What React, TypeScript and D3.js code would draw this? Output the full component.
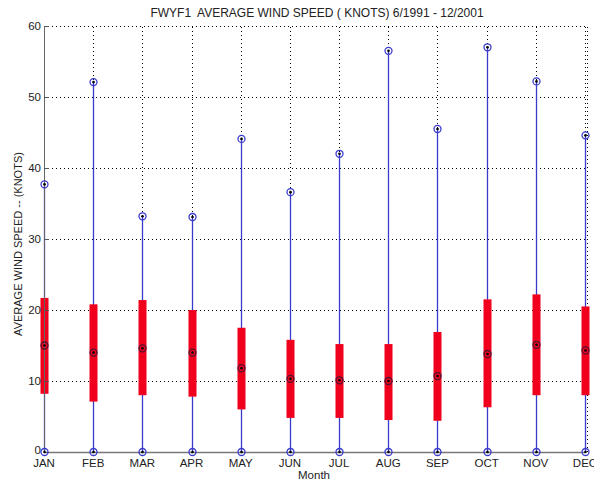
import React, { useEffect, useRef } from "react";
import * as d3 from "d3";

const WIDTH = 594;
const HEIGHT = 483;
const MARGIN = { top: 26, right: 9, bottom: 31, left: 44 };

const months = ["JAN", "FEB", "MAR", "APR", "MAY", "JUN", "JUL", "AUG", "SEP", "OCT", "NOV", "DEC"];
const maxValues = [37.7, 52.1, 33.2, 33.1, 44.1, 36.6, 42.0, 56.5, 45.5, 57.0, 52.2, 44.6];
const q3Values = [21.7, 20.8, 21.4, 20.0, 17.5, 15.8, 15.2, 15.2, 16.9, 21.5, 22.2, 20.5];
const medianValues = [15.0, 14.0, 14.6, 14.0, 11.8, 10.3, 10.1, 10.0, 10.7, 13.8, 15.1, 14.3];
const q1Values = [8.2, 7.1, 8.0, 7.8, 6.0, 4.8, 4.8, 4.5, 4.4, 6.3, 8.0, 8.0];
const minValues = [0, 0, 0, 0, 0, 0, 0, 0, 0, 0, 0, 0];
const yTicks = [0, 10, 20, 30, 40, 50, 60];

const FONT = "'Liberation Sans', Arial, sans-serif";

export default function App() {
  const gRef = useRef<SVGGElement>(null);

  useEffect(() => {
    const g = d3.select(gRef.current);
    g.selectAll("*").remove();

    const x = d3
      .scaleLinear()
      .domain([0, months.length - 1])
      .range([MARGIN.left, WIDTH - MARGIN.right]);
    const y = d3
      .scaleLinear()
      .domain([0, 60])
      .range([HEIGHT - MARGIN.bottom, MARGIN.top]);

    const data = months.map((m, i) => ({
      m,
      i,
      max: maxValues[i],
      q3: q3Values[i],
      med: medianValues[i],
      q1: q1Values[i],
      min: minValues[i],
    }));

    // grid
    const grid = g.append("g").attr("stroke", "#000").attr("stroke-width", 1).attr("stroke-dasharray", "1,3");
    grid
      .selectAll("line.h")
      .data(yTicks.filter((t) => t > 0))
      .join("line")
      .attr("x1", x(0))
      .attr("x2", x(11) + 2)
      .attr("y1", (d) => Math.round(y(d)) + 0.5)
      .attr("y2", (d) => Math.round(y(d)) + 0.5);
    grid
      .selectAll("line.v")
      .data(d3.range(1, 12))
      .join("line")
      .attr("x1", (d) => Math.round(x(d)) + 0.5)
      .attr("x2", (d) => Math.round(x(d)) + 0.5)
      .attr("y1", y(0))
      .attr("y2", y(60));
    // right frame (dotted, like the grid)
    grid
      .append("line")
      .attr("x1", Math.round(x(11)) + 2.5)
      .attr("x2", Math.round(x(11)) + 2.5)
      .attr("y1", y(0))
      .attr("y2", y(60));

    // whiskers
    g.append("g")
      .selectAll("line")
      .data(data)
      .join("line")
      .attr("x1", (d) => Math.round(x(d.i)) + 0.5)
      .attr("x2", (d) => Math.round(x(d.i)) + 0.5)
      .attr("y1", (d) => y(d.min))
      .attr("y2", (d) => y(d.max))
      .attr("stroke", "#3a3acc")
      .attr("stroke-width", 1.3);

    // boxes
    g.append("g")
      .selectAll("rect")
      .data(data)
      .join("rect")
      .attr("x", (d) => Math.round(x(d.i)) - 3.5)
      .attr("width", 8)
      .attr("y", (d) => y(d.q3))
      .attr("height", (d) => y(d.q1) - y(d.q3))
      .attr("fill", "#f0001c");

    // axes
    g.append("line")
      .attr("x1", x(0))
      .attr("x2", x(11))
      .attr("y1", y(0) + 0.5)
      .attr("y2", y(0) + 0.5)
      .attr("stroke", "#777")
      .attr("stroke-width", 1.5);
    g.append("line")
      .attr("x1", x(0) + 0.5)
      .attr("x2", x(0) + 0.5)
      .attr("y1", y(0))
      .attr("y2", y(60))
      .attr("stroke", "#666")
      .attr("stroke-width", 1);
    g.append("g")
      .selectAll("line")
      .data(yTicks)
      .join("line")
      .attr("x1", x(0))
      .attr("x2", x(0) + 5)
      .attr("y1", (d) => Math.round(y(d)) + 0.5)
      .attr("y2", (d) => Math.round(y(d)) + 0.5)
      .attr("stroke", "#555");

    // markers
    const markerRows = [
      { key: "max", ring: "#3a3acc" },
      { key: "min", ring: "#3a3acc" },
      { key: "med", ring: "#551133" },
    ] as const;
    markerRows.forEach((row) => {
      const mg = g.append("g");
      mg.selectAll("circle.r")
        .data(data)
        .join("circle")
        .attr("cx", (d) => Math.round(x(d.i)) + 0.5)
        .attr("cy", (d) => y(d[row.key]))
        .attr("r", 3.5)
        .attr("fill", "none")
        .attr("stroke", row.ring)
        .attr("stroke-width", 1.3);
      mg.selectAll("circle.d")
        .data(data)
        .join("circle")
        .attr("cx", (d) => Math.round(x(d.i)) + 0.5)
        .attr("cy", (d) => y(d[row.key]))
        .attr("r", 1.3)
        .attr("fill", "#000");
    });

    // tick labels
    g.append("g")
      .selectAll("text")
      .data(yTicks)
      .join("text")
      .attr("x", x(0) - 3)
      .attr("y", (d) => y(d) - (d === 0 ? 2 : 0))
      .attr("dy", "0.35em")
      .attr("text-anchor", "end")
      .attr("font-size", 11.5)
      .attr("font-family", FONT)
      .attr("fill", "#222")
      .text((d) => d);
    g.append("g")
      .selectAll("text")
      .data(data)
      .join("text")
      .attr("x", (d) => x(d.i))
      .attr("y", y(0) + 15)
      .attr("text-anchor", "middle")
      .attr("font-size", 11.5)
      .attr("font-family", FONT)
      .attr("fill", "#222")
      .text((d) => d.m);

    // titles
    g.append("text")
      .attr("x", 317)
      .attr("y", 17)
      .attr("text-anchor", "middle")
      .attr("font-size", 12)
      .attr("font-family", FONT)
      .attr("fill", "#222")
      .attr("xml:space", "preserve")
      .text("FWYF1  AVERAGE WIND SPEED ( KNOTS) 6/1991 - 12/2001");
    g.append("text")
      .attr("x", 314)
      .attr("y", 479)
      .attr("text-anchor", "middle")
      .attr("font-size", 11.5)
      .attr("font-family", FONT)
      .attr("fill", "#222")
      .text("Month");
    g.append("text")
      .attr("transform", `translate(22,${(y(0) + y(60)) / 2 + 5}) rotate(-90)`)
      .attr("text-anchor", "middle")
      .attr("font-size", 11)
      .attr("font-family", FONT)
      .attr("fill", "#222")
      .text("AVERAGE WIND SPEED -- (KNOTS)");
  }, []);

  return (
    <svg
      width={WIDTH}
      height={HEIGHT}
      style={{ position: "absolute", left: 0, top: 0, background: "#fff", display: "block" }}
    >
      <g ref={gRef} />
    </svg>
  );
}
